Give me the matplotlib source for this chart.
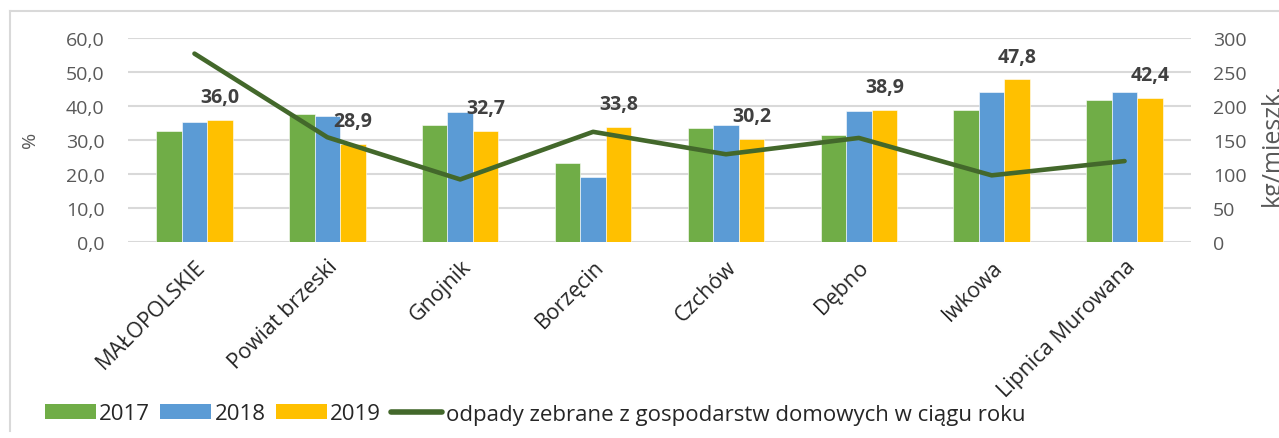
import matplotlib
matplotlib.use('Agg')
import matplotlib.pyplot as plt
import numpy as np
from matplotlib.lines import Line2D
from matplotlib.patches import Patch

plt.rcParams['font.family'] = ['Open Sans', 'DejaVu Sans']

# dane
gminy = ['MAŁOPOLSKIE', 'Powiat brzeski', 'Gnojnik', 'Borzęcin', 'Czchów',
         'Dębno', 'Iwkowa', 'Lipnica Murowana']
lata = ['2017', '2018', '2019']
proc_2017 = [32.7, 37.6, 34.3, 23.1, 33.6, 31.6, 38.7, 41.8]
proc_2018 = [35.4, 37.1, 38.2, 19.0, 34.4, 38.6, 44.1, 44.1]
proc_2019 = [36.0, 28.9, 32.7, 33.8, 30.2, 38.9, 47.8, 42.4]
odpady_kg = [277, 154, 92, 162, 129, 153, 98, 119]
opis_linii = 'odpady zebrane z gospodarstw domowych w ciągu roku'

kolory = ['#70AD47', '#5B9BD5', '#FFC000']
kolor_linii = '#43682B'
szary = '#595959'
siatka = '#D9D9D9'

fig = plt.figure(figsize=(12.79, 4.39), dpi=100)
ax = fig.add_axes([0.1001, 0.4465, 0.8311, 0.4647])
ax2 = ax.twinx()

x = np.arange(len(gminy))
w = 0.192
for i, (vals, c) in enumerate(zip([proc_2017, proc_2018, proc_2019], kolory)):
    ax.bar(x + (i - 1) * w, vals, width=w, color=c, zorder=2,
           edgecolor='white', linewidth=0.4)

# etykiety wartości dla 2019
for xi, v in zip(x, proc_2019):
    ax.annotate(f'{v:.1f}'.replace('.', ','), (xi + w, v), xytext=(0, 16.5),
                textcoords='offset points', ha='center', va='center',
                fontsize=14, fontweight='bold', color='#404040', zorder=5)

ax2.plot(x, odpady_kg, color=kolor_linii, linewidth=3.3,
         solid_capstyle='round', solid_joinstyle='round', zorder=4)

ax.set_xlim(-0.5, len(gminy) - 0.5)
ax.set_ylim(0, 60)
ax2.set_ylim(0, 300)
ax.set_yticks(np.arange(0, 61, 10))
ax.set_yticklabels([f'{v:.1f}'.replace('.', ',') for v in np.arange(0, 61, 10)])
ax2.set_yticks(np.arange(0, 301, 50))

ax.yaxis.grid(True, color=siatka, linewidth=1.5, zorder=0)
ax.set_axisbelow(True)
for a in (ax, ax2):
    for s in a.spines.values():
        s.set_visible(False)
    a.tick_params(length=0, labelsize=14, colors=szary)
ax.tick_params(axis='y', pad=17)
ax2.tick_params(axis='y', pad=16)

ax.set_xticks(x)
ax.set_xticklabels(gminy, rotation=45, ha='right', rotation_mode='anchor',
                   fontsize=15.5, color='#262626')
ax.tick_params(axis='x', pad=10)
ax2.set_zorder(ax.get_zorder() + 1)
ax.patch.set_visible(False)

fig.text(30 / 1279, 1 - 140 / 439, '%', rotation=90, fontsize=14, color=szary,
         ha='center', va='center')
fig.text(1272 / 1279, 1 - 145 / 439, 'kg/mieszk.', rotation=90, fontsize=18,
         color=szary, ha='center', va='center')

# ramka wykresu
fig.add_artist(Line2D([10 / 1279, 10 / 1279], [1 - 12 / 439, 1 - 432 / 439],
                      transform=fig.transFigure, color=siatka, linewidth=1.5))
fig.add_artist(Line2D([10 / 1279, 1.0], [1 - 12 / 439, 1 - 12 / 439],
                      transform=fig.transFigure, color=siatka, linewidth=1.5))

uchwyty = [Patch(facecolor=c) for c in kolory] + \
          [Line2D([0], [0], color=kolor_linii, linewidth=4, solid_capstyle='round')]
fig.legend(uchwyty, lata + [opis_linii], loc='center left',
           bbox_to_anchor=(36 / 1279, 1 - 415 / 439), ncol=4, frameon=False,
           fontsize=16, handlelength=2.3, handleheight=0.65, handletextpad=0.15,
           columnspacing=0.45, labelcolor='#262626', borderaxespad=0)

fig.savefig('out.png', dpi=100)
